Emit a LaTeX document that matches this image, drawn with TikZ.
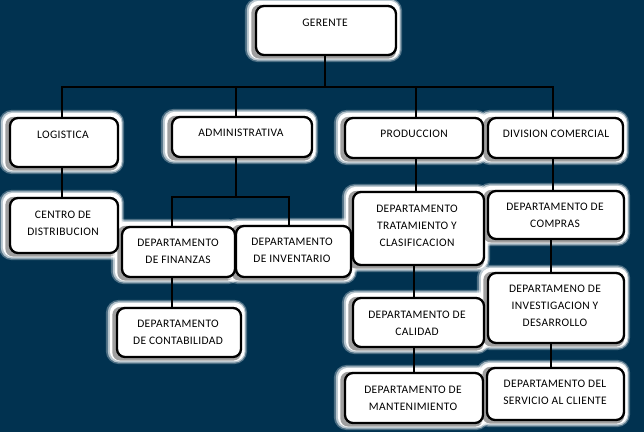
\documentclass[tikz,border=0pt]{standalone}
\usepackage{fontspec}
\setmainfont[LetterSpace=3]{Carlito}
\usetikzlibrary{backgrounds}
\definecolor{navy}{RGB}{1,50,80}
\pgfdeclarelayer{halo}
\pgfdeclarelayer{lines}
\pgfsetlayers{background,halo,lines,main}
\begin{document}
\begin{tikzpicture}[x=1pt,y=-1pt,
  orgbox/.style={draw=black, fill=white, line width=2.3pt, rounded corners=8pt, inner sep=0pt},
  lbl/.style={align=center, font=\fontsize{11.5}{17}\selectfont, text=black, inner sep=0pt},
  conn/.style={draw=black, line width=1.4pt}]
\begin{pgfonlayer}{background}
\fill[navy] (0,0) rectangle (644,432);
\end{pgfonlayer}
\useasboundingbox (0,0) rectangle (644,432);

% boxes
\node[orgbox, minimum width=140pt, minimum height=49pt] (ger) at (326,30.5) {};
\node[orgbox, minimum width=108pt, minimum height=49pt] (log) at (64,142.5) {};
\node[orgbox, minimum width=140pt, minimum height=40pt] (adm) at (242,137) {};
\node[orgbox, minimum width=138pt, minimum height=40pt] (pro) at (414,138) {};
\node[orgbox, minimum width=135pt, minimum height=40pt] (div) at (555.5,138) {};
\node[orgbox, minimum width=108pt, minimum height=55pt] (cen) at (64,225.5) {};
\node[orgbox, minimum width=113pt, minimum height=50pt] (fin) at (178.5,252) {};
\node[orgbox, minimum width=115pt, minimum height=51pt] (inv) at (293.5,251.5) {};
\node[orgbox, minimum width=124pt, minimum height=49pt] (con) at (179,332.5) {};
\node[orgbox, minimum width=131pt, minimum height=73pt] (tra) at (418.5,228.5) {};
\node[orgbox, minimum width=136pt, minimum height=48pt] (com) at (556,215) {};
\node[orgbox, minimum width=131pt, minimum height=49pt] (cal) at (418.5,322.5) {};
\node[orgbox, minimum width=138pt, minimum height=50pt] (man) at (414,398) {};
\node[orgbox, minimum width=136pt, minimum height=70pt] (ide) at (556,308) {};
\node[orgbox, minimum width=137pt, minimum height=52pt] (ser) at (555.5,394) {};

% labels
\node[lbl] (tger) at (325,23) {GERENTE};
\node[lbl] (tlog) at (63,135) {LOGISTICA};
\node[lbl] (tadm) at (241,133) {ADMINISTRATIVA};
\node[lbl] (tpro) at (414,134) {PRODUCCION};
\node[lbl] (tdiv) at (556,134) {DIVISION COMERCIAL};
\node[lbl] (tcen) at (63,223.5) {CENTRO DE\\DISTRIBUCION};
\node[lbl] (tfin) at (178,251.5) {DEPARTAMENTO\\DE FINANZAS};
\node[lbl] (tinv) at (292,250.5) {DEPARTAMENTO\\DE INVENTARIO};
\node[lbl] (tcon) at (178,332.5) {DEPARTAMENTO\\DE CONTABILIDAD};
\node[lbl] (ttra) at (417,226) {DEPARTAMENTO\\TRATAMIENTO Y\\CLASIFICACION};
\node[lbl] (tcom) at (555,215.5) {DEPARTAMENTO DE\\COMPRAS};
\node[lbl] (tcal) at (417,323) {DEPARTAMENTO DE\\CALIDAD};
\node[lbl] (tman) at (413,398.5) {DEPARTAMENTO DE\\MANTENIMIENTO};
\node[lbl] (tide) at (555,305.5) {DEPARTAMENO DE\\INVESTIGACION Y\\DESARROLLO};
\node[lbl] (tser) at (555,392.5) {DEPARTAMENTO DEL\\SERVICIO AL CLIENTE};

% halos and shadows
\begin{pgfonlayer}{halo}
\foreach \n in {ger,log,adm,pro,div,cen,fin,inv,con,tra,com,cal,man,ide,ser}{
  \fill[white, opacity=.3, rounded corners=13pt] ([xshift=-10pt,yshift=7pt]\n.north west) rectangle ([xshift=5pt,yshift=-6pt]\n.south east);
  \fill[white, opacity=.6, rounded corners=11pt] ([xshift=-8pt,yshift=5.5pt]\n.north west) rectangle ([xshift=3.5pt,yshift=-4.5pt]\n.south east);
  \fill[white, rounded corners=10pt] ([xshift=-6pt,yshift=4pt]\n.north west) rectangle ([xshift=2.5pt,yshift=-3pt]\n.south east);
  \fill[gray!75, rounded corners=8pt] ([xshift=-3.5pt]\n.north west) rectangle ([xshift=-1pt,yshift=-2.5pt]\n.south east);
}
\end{pgfonlayer}

% connectors
\begin{pgfonlayer}{lines}
\coordinate (bus) at (0,87);
\coordinate (bus2) at (0,197);
\draw[conn, line width=1.8pt] ([xshift=-1pt]ger.south) -- ([xshift=-1pt]ger.south |- bus);
\draw[conn] ([xshift=-2pt]log.north) |- ([xshift=-2.5pt]div.north |- bus) -- ([xshift=-2.5pt]div.north);
\draw[conn] ([xshift=-6pt]adm.north) -- ([xshift=-6pt]adm.north |- bus);
\draw[conn] ([xshift=2pt]pro.north) -- ([xshift=2pt]pro.north |- bus);
\draw[conn] ([xshift=-2pt]log.south) -- ([xshift=-2pt]log.south |- cen.north);
\draw[conn] ([xshift=-6pt]adm.south) -- ([xshift=-6pt]adm.south |- bus2);
\draw[conn] ([xshift=-6.5pt]fin.north) |- ([xshift=-4.5pt]inv.north |- bus2) -- ([xshift=-4.5pt]inv.north);
\draw[conn] ([xshift=-6.5pt]fin.south) -- ([xshift=-6.5pt]fin.south |- con.north);
\draw[conn] ([xshift=2pt]pro.south) -- ([xshift=2pt]pro.south |- tra.north);
\draw[conn] ([xshift=-4.5pt]tra.south) -- ([xshift=-4.5pt]tra.south |- cal.north);
\draw[conn] ([xshift=-4.5pt]cal.south) -- ([xshift=-4.5pt]cal.south |- man.north);
\draw[conn] ([xshift=-2.5pt]div.south) -- ([xshift=-2.5pt]div.south |- com.north);
\draw[conn] ([xshift=-5pt]com.south) -- ([xshift=-5pt]com.south |- ide.north);
\draw[conn] ([xshift=-5pt]ide.south) -- ([xshift=-5pt]ide.south |- ser.north);
\end{pgfonlayer}
\end{tikzpicture}
\end{document}
